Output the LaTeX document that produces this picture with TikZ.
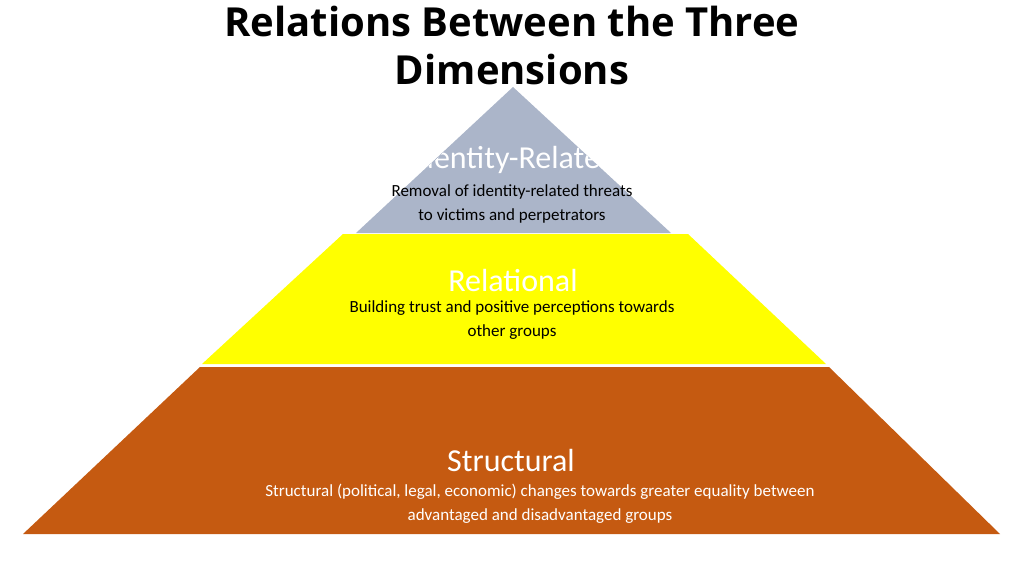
\documentclass[tikz,border=0pt]{standalone}
\usepackage{fontspec}
\setmainfont{Carlito}
\newfontfamily\titlefont{Open Sans}
\definecolor{topgray}{RGB}{171,181,201}
\definecolor{midyellow}{RGB}{255,255,0}
\definecolor{baseorange}{RGB}{197,90,17}
\tikzset{
  band/.style={draw=white, line width=1.5pt},
  head/.style={font=\fontsize{32}{36}\selectfont, text=white},
  body/.style={font=\fontsize{17}{24}\selectfont, align=center}
}
\begin{document}
\begin{tikzpicture}[x=1pt, y=-1pt]
\useasboundingbox (0,0) rectangle (1024,575);
% title
\node[font=\titlefont\bfseries\fontsize{40}{48}\selectfont, align=center] (title) at (512,46)
  {Relations Between the Three\\Dimensions};
% bands
\coordinate (apex) at (513,87);
\fill[topgray] (apex) -- (671,233) -- (356,233) -- cycle;
\fill[midyellow] (343,234) -- (688,234) -- (826,364) -- (202,364) -- cycle;
\fill[baseorange] (200,367) -- (829,367) -- (1000,534) -- (23,534) -- cycle;
% labels
\begin{scope}
  \clip (apex) -- (671,233) -- (356,233) -- cycle;
  \node[head] (identity) at (513,160) {Identity-Related};
\end{scope}
\node[body] (identitytxt) at (512,204) {Removal of identity-related threats\\to victims and perpetrators};
\node[head] (relational) at (513,281) {Relational};
\node[body] (relationaltxt) at (512,320) {Building trust and positive perceptions towards\\other groups};
\node[head] (structural) at (511,461) {Structural};
\node[body, text=white] (structuraltxt) at (540,504) {Structural (political, legal, economic) changes towards greater equality between\\advantaged and disadvantaged groups};
\end{tikzpicture}
\end{document}
